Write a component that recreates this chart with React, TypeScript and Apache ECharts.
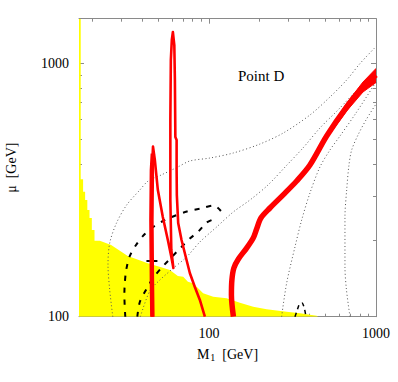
import { useEffect, useRef } from "react";
import * as echarts from "echarts";

// Axis ranges (M1 and mu in GeV, both logarithmic)
const X_MIN = 16.7;
const X_MAX = 1000;
const Y_MIN = 100;
const Y_MAX = 1500;

const xMajorTicks = [100, 1000];
const xMinorTicks = [20, 30, 40, 50, 60, 70, 80, 90, 200, 300, 400, 500, 600, 700, 800, 900];
const yMajorTicks = [100, 1000];
const yMinorTicks = [200, 300, 400, 500, 600, 700, 800, 900];

// Excluded (yellow) region boundary: [M1, mu]
const yellowEdge: [number, number][] = [
  [16.7, 1500], [17.1, 1500], [17.1, 348.5], [17.67, 348.5], [17.67, 311.4], [18.17, 311.4],
  [18.17, 288.7], [18.73, 288.7], [18.73, 263.7], [19.3, 263.7], [19.3, 245.2], [19.93, 245.2],
  [19.93, 219.9], [20.68, 219.9], [20.68, 199.5], [22.25, 199.5], [26.0, 191.9], [32.7, 173.6],
  [43.1, 162.4], [51.8, 156.6], [58.4, 152.8], [65.2, 144.7], [70.2, 143.8], [74.9, 137.5],
  [80.5, 135.5], [92.4, 123.7], [106.1, 119.9], [127.6, 118.2], [153.3, 113.6], [184.2, 109.5],
  [221.6, 107.0], [292, 104.6], [350.8, 103.1], [441.6, 100.9], [450, 100],
];

// Red relic-density contour with the two narrow spikes
const redSpikes: [number, number][] = [
  [45.9, 100], [45.6, 139.6], [45.3, 240.8], [45.6, 379.2], [46.3, 469], [47.5, 415.3],
  [49.5, 316.2], [53.0, 247.4], [56.8, 200.7], [59.6, 172.0], [61.3, 155.7], [59.6, 183.3],
  [58.8, 288.7], [58.8, 597.4], [59.2, 1030], [60.0, 1236], [60.9, 1329], [62.1, 1180],
  [62.6, 859], [63.0, 512], [64.1, 498], [64.1, 379], [64.3, 302], [65.5, 234.3],
  [68.6, 200.7], [73.5, 167.4], [76.9, 148.8], [82.4, 131.0], [88.3, 116.4], [94.6, 100],
];
const redSpikeBase: [number, number][] = [
  [45.9, 100], [45.6, 139.6], [45.3, 240.8], [45.6, 379.2], [46.2, 440],
];

// Red relic-density band on the right (centre line)
const redBand: [number, number][] = [
  [140.2, 100], [136.4, 121.8], [137.3, 139.6], [141.1, 155.7], [150.2, 169.0], [168.2, 186.6],
  [184.2, 204.4], [193.0, 221.8], [204.8, 245.2], [231.9, 268.5], [277.4, 302], [335.1, 343.2],
  [402.4, 396.9], [506.7, 516.6], [667.6, 672.3], [835.8, 806.3], [1000, 899.1],
];
// Widening upper end of the band: upper edge then lower edge
const redBandFlare: [number, number][] = [
  [506.7, 528.4], [667.6, 697], [835.8, 843.7], [1000, 953.9],
  [1000, 839.9], [835.8, 770.4], [667.6, 648.3], [506.7, 505.0],
];

// Dashed contours
const dashedOuter: [number, number][] = [
  [31.6, 100], [31.2, 121.8], [31.4, 135.8], [32.0, 152.8], [33.5, 172.5], [36.3, 190.1],
  [40.8, 210.1], [46.9, 227.0], [53.2, 238.6], [62.1, 249.6], [73.9, 260.1], [90.4, 267.8],
  [107.1, 274.8], [118.0, 261.3],
];
const dashedInner: [number, number][] = [
  [37.3, 100], [38.6, 114.3], [42.3, 128.6], [46.4, 142.2], [52.3, 156.4], [59.2, 170.4],
  [67.5, 186.6], [76.9, 203.5], [86.3, 216.5], [96.9, 235.3], [105.7, 241.8],
];
const dashedBump: [number, number][] = [
  [327.3, 100], [336.5, 105.3], [348.4, 112.2], [360.6, 113.3], [373.3, 107.2], [380.9, 100],
];
const dashedMark: [number, number][] = [[42.3, 165.9], [49.2, 165.9]];

// Dotted contours
const dotted1: [number, number][] = [
  [26.6, 100], [25.5, 127.5], [24.9, 160.0], [25.5, 195.4], [28.0, 234.3], [32.2, 275.9],
  [38.6, 316.2], [43.3, 343.2], [51.8, 362.4], [65.2, 389.8], [76.9, 411.6], [101.4, 422.9],
  [139.8, 442.6], [202.0, 480.2], [278.6, 530.9], [402.4, 625.2], [530.3, 736.2],
  [667.6, 859.3], [802.1, 998], [1000, 1165],
];
const dotted2: [number, number][] = [
  [38.9, 100], [44.3, 126.3], [50.9, 139.6], [60.9, 155.0], [73.5, 172.0], [88.3, 197.2],
  [111.2, 225.9], [139.8, 258.9], [176.0, 288.7], [225.6, 330.9], [293.2, 396.9],
  [365.6, 463.3], [461.9, 555.6], [592.2, 654.3], [759.0, 777.5], [1000, 940.9],
];
const dotted3: [number, number][] = [
  [272.4, 100], [292.0, 135.8], [327.3, 188.4], [359.1, 240.8], [402.4, 307.6], [461.9, 389.8],
  [530.3, 454.8], [608.8, 516.6], [759.0, 636.7], [1000, 843.7],
];
const dotted4: [number, number][] = [
  [698.6, 100], [665.7, 127.5], [652.0, 157.5], [652.0, 248.1], [667.6, 316.2], [689.0, 396.9],
  [715.2, 454.8], [780.3, 521.2], [871.0, 597.4], [1000, 691.0],
];

const SERIF = '"Liberation Serif", "DejaVu Serif", serif';
const AXIS_GRAY = "#8a8a8a";
const RED = "#ff0000";
const DOT_GRAY = "#555555";

function lineSeries(name: string, data: [number, number][], color: string, width: number, type: any, z: number, smooth: number | boolean = false) {
  return {
    name,
    type: "line",
    data,
    symbol: "none",
    showSymbol: false,
    smooth,
    z,
    lineStyle: { color, width, type, cap: "butt", join: "round" },
    emphasis: { disabled: true },
    silent: true,
  };
}

function xAxisDef(position: string, ticks: number[], len: number, main: boolean, labels: boolean) {
  const a: any = {
    type: "log",
    position,
    min: X_MIN,
    max: X_MAX,
    axisLine: { show: main, onZero: false, lineStyle: { color: AXIS_GRAY, width: 1 } },
    axisTick: { show: true, inside: true, length: len, customValues: ticks, lineStyle: { color: AXIS_GRAY, width: 1 } },
    axisLabel: labels
      ? { show: true, customValues: xMajorTicks, formatter: (v: number) => String(Math.round(v)), color: "#000", fontFamily: SERIF, fontSize: 14, margin: 10 }
      : { show: false },
    splitLine: { show: false },
    minorTick: { show: false },
  };
  if (labels) {
    a.name = "{m|M}{s|1}{m|  [GeV]}";
    a.nameLocation = "middle";
    a.nameGap = 28;
    a.nameTextStyle = {
      rich: {
        m: { fontFamily: SERIF, fontSize: 14, color: "#000", lineHeight: 16 },
        s: { fontFamily: SERIF, fontSize: 10, color: "#000", lineHeight: 10, verticalAlign: "bottom", padding: [7, 0, 0, 1] },
      },
    };
  }
  return a;
}

function yAxisDef(position: string, ticks: number[], len: number, main: boolean, labels: boolean) {
  const a: any = {
    type: "log",
    position,
    min: Y_MIN,
    max: Y_MAX,
    axisLine: { show: main, onZero: false, lineStyle: { color: AXIS_GRAY, width: 1 } },
    axisTick: { show: true, inside: true, length: len, customValues: ticks, lineStyle: { color: AXIS_GRAY, width: 1 } },
    axisLabel: labels
      ? { show: true, customValues: yMajorTicks, formatter: (v: number) => String(Math.round(v)), color: "#000", fontFamily: SERIF, fontSize: 14, margin: 10 }
      : { show: false },
    splitLine: { show: false },
    minorTick: { show: false },
  };
  if (labels) {
    a.name = "μ  [GeV]";
    a.nameLocation = "middle";
    a.nameGap = 61;
    a.nameTextStyle = { fontFamily: SERIF, fontSize: 14, color: "#000", lineHeight: 14 };
  }
  return a;
}

export default function App() {
  const ref = useRef<HTMLDivElement>(null);
  useEffect(() => {
    const chart = echarts.init(ref.current!, null, { renderer: "svg" });
    const option: any = {
      animation: false,
      backgroundColor: "#ffffff",
      grid: { left: 79, right: 22, top: 18.7, bottom: 65.3, containLabel: false, outerBoundsMode: "none" },
      xAxis: [
        xAxisDef("bottom", xMajorTicks, 5, true, true),
        xAxisDef("bottom", xMinorTicks, 3, false, false),
        xAxisDef("top", xMajorTicks, 5, true, false),
        xAxisDef("top", xMinorTicks, 3, false, false),
      ],
      yAxis: [
        yAxisDef("left", yMajorTicks, 5, true, true),
        yAxisDef("left", yMinorTicks, 3, false, false),
        yAxisDef("right", yMajorTicks, 5, true, false),
        yAxisDef("right", yMinorTicks, 3, false, false),
      ],
      graphic: [
        {
          type: "text",
          left: 238,
          top: 68,
          style: { text: "Point D", font: `15px ${SERIF}`, fill: "#000" },
        },
      ],
      series: [
        {
          name: "excluded",
          type: "line",
          data: yellowEdge,
          symbol: "none",
          showSymbol: false,
          z: 1,
          lineStyle: { width: 0, color: "#ffff00" },
          areaStyle: { color: "#ffff00", opacity: 1, origin: "start" },
          silent: true,
        },
        lineSeries("dotted1", dotted1, DOT_GRAY, 1, [1, 2.5], 2, 0.3),
        lineSeries("dotted2", dotted2, DOT_GRAY, 1, [1, 2.5], 2, 0.3),
        lineSeries("dotted3", dotted3, DOT_GRAY, 1, [1, 2.5], 2, 0.3),
        lineSeries("dotted4", dotted4, DOT_GRAY, 1, [1, 2.5], 2, 0.3),
        lineSeries("dashedOuter", dashedOuter, "#000", 2, [5, 7], 3, 0.3),
        lineSeries("dashedInner", dashedInner, "#000", 2, [5, 7], 3, 0.3),
        lineSeries("dashedBump", dashedBump, "#000", 1.5, [4, 4], 3, 0.3),
        lineSeries("dashedMark", dashedMark, "#000", 2, "solid", 3),
        lineSeries("redSpikes", redSpikes, RED, 2.6, "solid", 4),
        lineSeries("redSpikeBase", redSpikeBase, RED, 4.5, "solid", 4),
        lineSeries("redBand", redBand, RED, 5.5, "solid", 4, 0.3),
        {
          name: "redBandFlare",
          type: "custom",
          coordinateSystem: "cartesian2d",
          xAxisIndex: 0,
          yAxisIndex: 0,
          z: 4,
          silent: true,
          clip: true,
          data: [redBandFlare[0]],
          encode: { x: 0, y: 1 },
          renderItem: (_params: any, api: any) => ({
            type: "polygon",
            shape: { points: redBandFlare.map((p) => api.coord(p)) },
            style: { fill: RED, stroke: RED, lineWidth: 1 },
          }),
        },
      ],
    };
    chart.setOption(option);
    return () => chart.dispose();
  }, []);
  return (
    <div
      ref={ref}
      style={{ position: "fixed", left: 0, top: 0, width: 398, height: 382, background: "#fff" }}
    />
  );
}
